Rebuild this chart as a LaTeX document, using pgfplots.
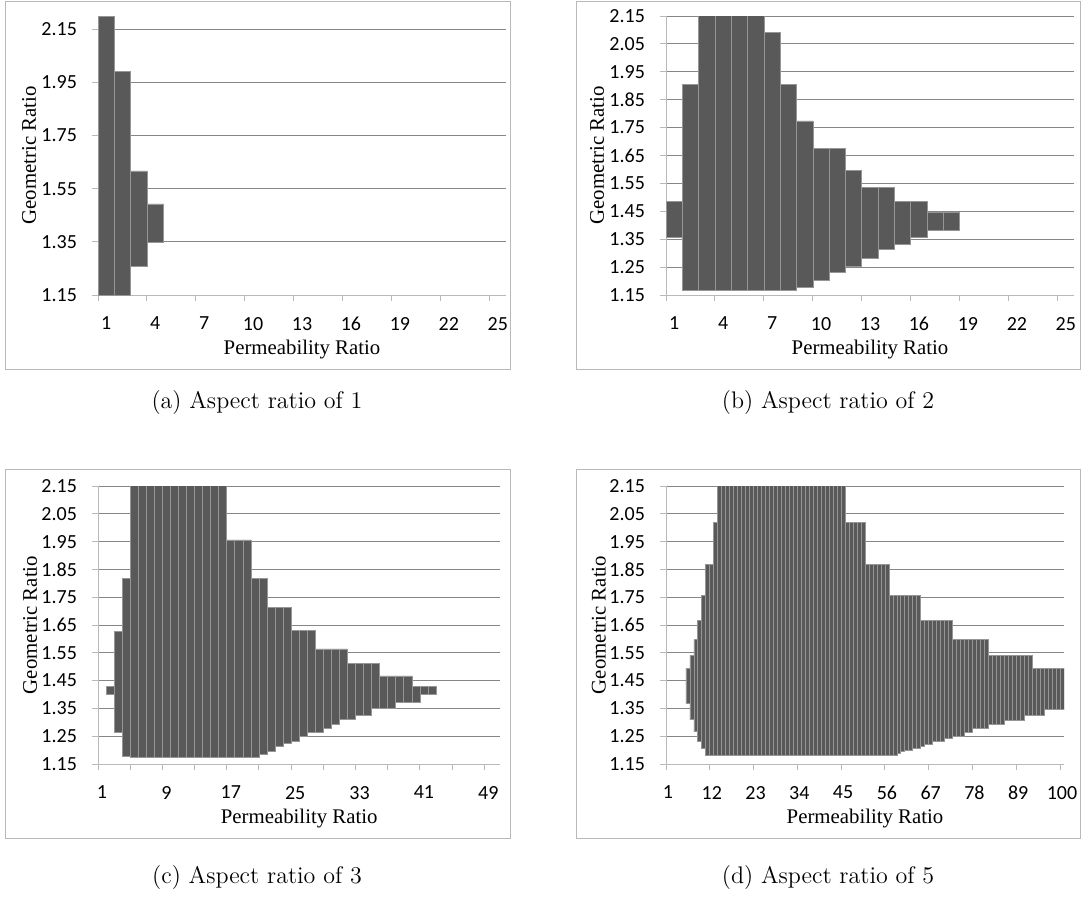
\documentclass[border=0pt]{standalone}
\usepackage{fontspec}
\usepackage{pgfplots}
\usepackage{pgfplotstable}
\pgfplotsset{compat=1.18}
\newfontfamily\calibri{Carlito}
\newfontfamily\tnr{Liberation Serif}
\definecolor{barfill}{RGB}{89,89,89}
\definecolor{barline}{RGB}{150,150,150}
\definecolor{gridcol}{RGB}{134,134,134}
\definecolor{axiscol}{RGB}{185,185,185}
\definecolor{framecol}{RGB}{185,185,185}

\pgfplotsset{
  floatbar/.style={
    scale only axis, width=204pt,
    ybar stacked, bar width=1,
    enlargelimits=false,
    axis x line*=bottom, axis y line*=left,
    axis line style={axiscol, line width=0.5pt},
    tick align=outside, major tick length=3pt, minor tick length=3pt,
    tick style={axiscol, line width=0.5pt},
    major x tick style={draw=none},
    ymajorgrids, grid style={gridcol, line width=0.5pt},
    tick label style={font=\calibri\fontsize{10}{12}\selectfont, text=black},
    xticklabel style={yshift=-4.5pt},
    yticklabel style={xshift=-4pt},
    xlabel={Permeability Ratio}, ylabel={Geometric Ratio},
    label style={font=\tnr\fontsize{10.4}{12}\selectfont},
    xlabel style={at={(axis description cs:0.5,-0.197)}, anchor=center},
    ylabel style={at={(axis description cs:-0.169,0.5)}, anchor=center},
  },
  base/.style={draw=none, fill=none},
  span/.style={fill=barfill, draw=barline, line width=0.35pt},
}

% columns: category, lower end, upper end of each floating bar
\pgfplotstableread{
x lo hi
1 1.150 2.200
2 1.150 1.990
3 1.257 1.617
4 1.350 1.493
}\tabA

\pgfplotstableread{
x lo hi
1 1.355 1.486
2 1.166 1.906
3 1.166 2.300
4 1.166 2.300
5 1.166 2.300
6 1.166 2.300
7 1.166 2.090
8 1.166 1.906
9 1.177 1.774
10 1.203 1.675
11 1.230 1.675
12 1.252 1.597
13 1.280 1.536
14 1.313 1.536
15 1.333 1.486
16 1.355 1.486
17 1.382 1.447
18 1.382 1.447
19 1.412 1.412
}\tabB

\pgfplotstableread{
x lo hi
2 1.400 1.430
3 1.264 1.628
4 1.178 1.817
5 1.173 2.300
6 1.173 2.300
7 1.173 2.300
8 1.173 2.300
9 1.173 2.300
10 1.173 2.300
11 1.173 2.300
12 1.173 2.300
13 1.173 2.300
14 1.173 2.300
15 1.173 2.300
16 1.173 2.300
17 1.173 1.956
18 1.173 1.956
19 1.173 1.956
20 1.173 1.817
21 1.184 1.817
22 1.197 1.712
23 1.212 1.712
24 1.223 1.712
25 1.233 1.630
26 1.251 1.630
27 1.264 1.630
28 1.264 1.564
29 1.277 1.564
30 1.291 1.564
31 1.309 1.564
32 1.309 1.511
33 1.326 1.511
34 1.326 1.511
35 1.349 1.511
36 1.349 1.467
37 1.349 1.467
38 1.372 1.467
39 1.372 1.467
40 1.372 1.430
41 1.400 1.430
42 1.400 1.430
}\tabC

\pgfplotstableread{
x lo hi
6 1.368 1.494
7 1.309 1.541
8 1.266 1.597
9 1.233 1.667
10 1.207 1.755
11 1.181 1.868
12 1.181 1.868
13 1.181 2.020
14 1.181 2.300
15 1.181 2.300
16 1.181 2.300
17 1.181 2.300
18 1.181 2.300
19 1.181 2.300
20 1.181 2.300
21 1.181 2.300
22 1.181 2.300
23 1.181 2.300
24 1.181 2.300
25 1.181 2.300
26 1.181 2.300
27 1.181 2.300
28 1.181 2.300
29 1.181 2.300
30 1.181 2.300
31 1.181 2.300
32 1.181 2.300
33 1.181 2.300
34 1.181 2.300
35 1.181 2.300
36 1.181 2.300
37 1.181 2.300
38 1.181 2.300
39 1.181 2.300
40 1.181 2.300
41 1.181 2.300
42 1.181 2.300
43 1.181 2.300
44 1.181 2.300
45 1.181 2.300
46 1.181 2.020
47 1.181 2.020
48 1.181 2.020
49 1.181 2.020
50 1.181 2.020
51 1.181 1.868
52 1.181 1.868
53 1.181 1.868
54 1.181 1.868
55 1.181 1.868
56 1.181 1.868
57 1.181 1.755
58 1.181 1.755
59 1.187 1.755
60 1.196 1.755
61 1.200 1.755
62 1.200 1.755
63 1.208 1.755
64 1.208 1.755
65 1.215 1.667
66 1.222 1.667
67 1.222 1.667
68 1.232 1.667
69 1.232 1.667
70 1.232 1.667
71 1.241 1.667
72 1.241 1.667
73 1.251 1.597
74 1.251 1.597
75 1.251 1.597
76 1.263 1.597
77 1.263 1.597
78 1.277 1.597
79 1.277 1.597
80 1.277 1.597
81 1.277 1.597
82 1.292 1.541
83 1.292 1.541
84 1.292 1.541
85 1.292 1.541
86 1.306 1.541
87 1.306 1.541
88 1.306 1.541
89 1.306 1.541
90 1.306 1.541
91 1.324 1.541
92 1.324 1.541
93 1.324 1.494
94 1.324 1.494
95 1.324 1.494
96 1.345 1.494
97 1.345 1.494
98 1.345 1.494
99 1.345 1.494
100 1.345 1.494
}\tabD

\begin{document}
\begin{tikzpicture}
\path[use as bounding box] (0,0) rectangle (540.5pt,-448pt);

% panel frames
\draw[framecol, line width=0.5pt] (2.5pt,-0.5pt) rectangle (255pt,-184.5pt);
\draw[framecol, line width=0.5pt] (288pt,-0.5pt) rectangle (540pt,-184.5pt);
\draw[framecol, line width=0.5pt] (2.5pt,-234.5pt) rectangle (255pt,-419pt);
\draw[framecol, line width=0.5pt] (288pt,-234.5pt) rectangle (540pt,-419pt);

% (a)
\begin{axis}[floatbar, at={(49pt,-147.5pt)}, anchor=south west, height=139.5pt,
  xmin=0.5, xmax=25.5, ymin=1.15, ymax=2.2,
  xtick={1,4,7,10,13,16,19,22,25}, xticklabels={1,4,7,10,13,16,19,22,25},
  minor xtick={0.5,3.5,6.5,9.5,12.5,15.5,18.5,21.5,24.5},
  ytick={1.15,1.35,1.55,1.75,1.95,2.15},
  yticklabels={1.15,1.35,1.55,1.75,1.95,2.15}]
\addplot[base] table[x=x, y=lo] {\tabA};
\addplot[span] table[x=x, y expr=\thisrow{hi}-\thisrow{lo}] {\tabA};
\end{axis}

% (b)
\begin{axis}[floatbar, at={(333pt,-147.5pt)}, anchor=south west, height=139.5pt,
  xmin=0.5, xmax=25.5, ymin=1.15, ymax=2.15,
  xtick={1,4,7,10,13,16,19,22,25}, xticklabels={1,4,7,10,13,16,19,22,25},
  minor xtick={0.5,3.5,6.5,9.5,12.5,15.5,18.5,21.5,24.5},
  ytick={1.15,1.25,1.35,1.45,1.55,1.65,1.75,1.85,1.95,2.05,2.15},
  yticklabels={1.15,1.25,1.35,1.45,1.55,1.65,1.75,1.85,1.95,2.05,2.15}]
\addplot[base] table[x=x, y=lo] {\tabB};
\addplot[span] table[x=x, y expr=\thisrow{hi}-\thisrow{lo}] {\tabB};
\end{axis}

% (c)
\begin{axis}[floatbar, at={(49pt,-382pt)}, anchor=south west, height=139pt, width=201.2pt,
  xmin=0.5, xmax=50.5, ymin=1.15, ymax=2.15,
  xtick={1,9,17,25,33,41,49}, xticklabels={1,9,17,25,33,41,49},
  minor xtick={0.5,4.5,8.5,12.5,16.5,20.5,24.5,28.5,32.5,36.5,40.5,44.5,48.5},
  ytick={1.15,1.25,1.35,1.45,1.55,1.65,1.75,1.85,1.95,2.05,2.15},
  yticklabels={1.15,1.25,1.35,1.45,1.55,1.65,1.75,1.85,1.95,2.05,2.15}]
\addplot[base] table[x=x, y=lo] {\tabC};
\addplot[span] table[x=x, y expr=\thisrow{hi}-\thisrow{lo}] {\tabC};
\end{axis}

% (d)
\begin{axis}[floatbar, at={(333pt,-382pt)}, anchor=south west, height=139pt, width=199pt,
  xmin=0.5, xmax=100.5, ymin=1.15, ymax=2.15,
  xtick={1,12,23,34,45,56,67,78,89,100}, xticklabels={1,12,23,34,45,56,67,78,89,100},
  minor xtick={0.5,11.5,22.5,33.5,44.5,55.5,66.5,77.5,88.5,99.5},
  ytick={1.15,1.25,1.35,1.45,1.55,1.65,1.75,1.85,1.95,2.05,2.15},
  yticklabels={1.15,1.25,1.35,1.45,1.55,1.65,1.75,1.85,1.95,2.05,2.15}]
\addplot[base] table[x=x, y=lo] {\tabD};
\addplot[span] table[x=x, y expr=\thisrow{hi}-\thisrow{lo}] {\tabD};
\end{axis}

% captions
\node[font=\fontsize{12}{14}\selectfont] at (128.5pt,-201pt) {(a) Aspect ratio of 1};
\node[font=\fontsize{12}{14}\selectfont] at (414pt,-201pt) {(b) Aspect ratio of 2};
\node[font=\fontsize{12}{14}\selectfont] at (128.5pt,-438.5pt) {(c) Aspect ratio of 3};
\node[font=\fontsize{12}{14}\selectfont] at (414pt,-438.5pt) {(d) Aspect ratio of 5};
\end{tikzpicture}
\end{document}
